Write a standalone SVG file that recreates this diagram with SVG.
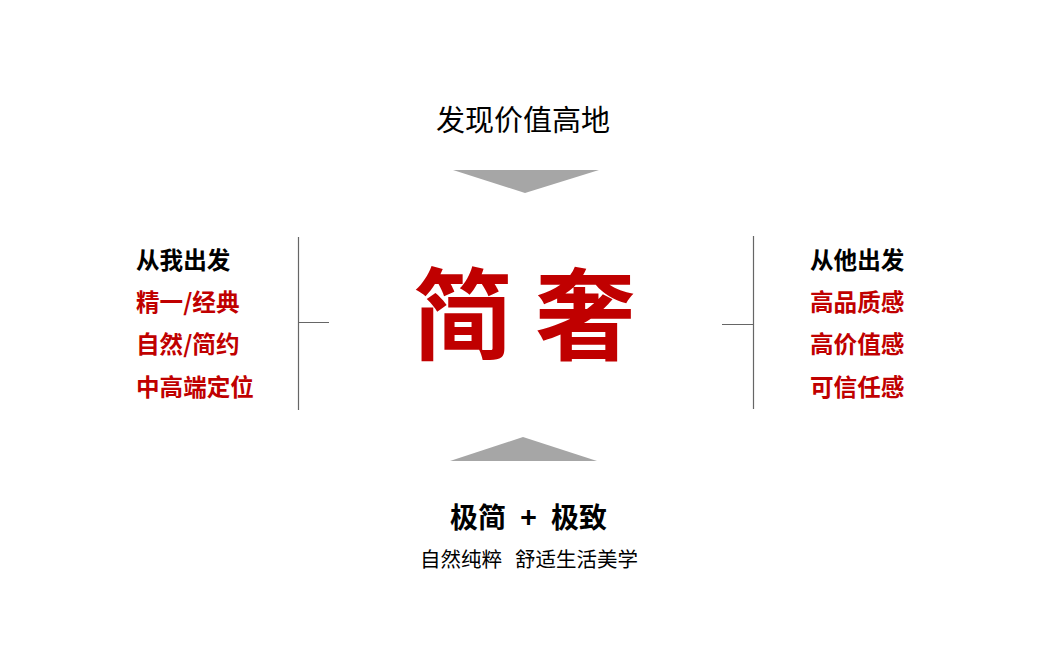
<svg xmlns="http://www.w3.org/2000/svg" width="1049" height="653" viewBox="0 0 1049 653">
<style>
text{font-family:"Noto Sans CJK SC","Noto Sans",sans-serif}
.bk{fill:#000}
.rd{fill:#C00000}
.b{font-weight:bold}
.side{font-size:23.6px;font-weight:bold}
.ln{stroke:#666;stroke-width:1.2;fill:none}
.tri{fill:#A6A6A6}
</style>
<rect width="1049" height="653" fill="#fff"/>
<g id="top">
<text x="523" y="131" font-size="29" text-anchor="middle" class="bk">发现价值高地</text>
<polygon class="tri" points="453,170 599,170 525,193"/>
</g>
<g id="center">
<text x="524" y="352" font-size="100" text-anchor="middle" class="rd b">简 奢</text>
</g>
<g id="left">
<text x="136" y="269" class="side bk">从我出发</text>
<text x="136" y="311" class="side rd">精一/经典</text>
<text x="136" y="353" class="side rd">自然/简约</text>
<text x="136" y="396" class="side rd">中高端定位</text>
</g>
<g id="right">
<text x="810" y="269" class="side bk">从他出发</text>
<text x="810" y="311" class="side rd">高品质感</text>
<text x="810" y="353" class="side rd">高价值感</text>
<text x="810" y="396" class="side rd">可信任感</text>
</g>
<g id="bottom">
<polygon class="tri" points="450,461 597,461 523,437"/>
<text x="528.5" y="528" font-size="28" text-anchor="middle" word-spacing="8" class="bk b">极简 + 极致</text>
<text x="529" y="567" font-size="20.5" text-anchor="middle" word-spacing="2" class="bk" xml:space="preserve">自然纯粹  舒适生活美学</text>
</g>
<g id="connectors">
<path class="ln" d="M298.5,237 V410 M298.5,322.5 H329"/>
<path class="ln" d="M753.5,236 V409 M722,324.5 H753.5"/>
</g>
</svg>
